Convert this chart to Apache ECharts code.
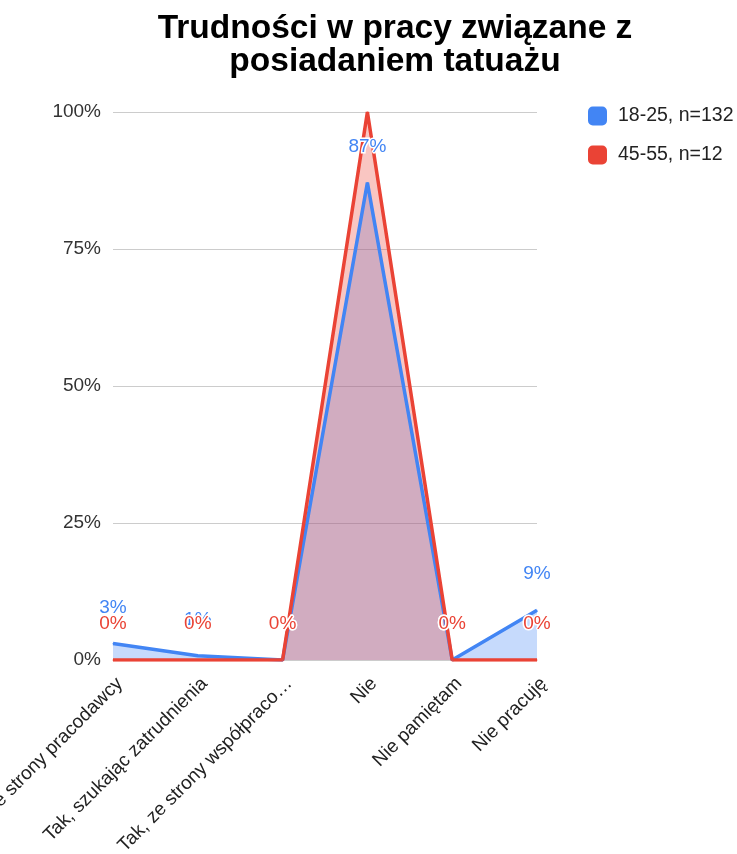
<!DOCTYPE html>
<html>
<head>
<meta charset="utf-8">
<script src="https://cdn.jsdelivr.net/npm/echarts@6/dist/echarts.min.js"></script>
<style>html,body{margin:0;padding:0;background:#fff}#c{width:737px;height:854px}</style>
</head>
<body>
<div id="c"></div>
<script>
const categories = ['Tak, ze strony pracodawcy', 'Tak, szukając zatrudnienia', 'Tak, ze strony współpracowników', 'Nie', 'Nie pamiętam', 'Nie pracuję'];
const seriesNames = ['18-25, n=132', '45-55, n=12'];
const young = [3.03, 0.76, 0, 87.12, 0, 9.09];
const older = [0, 0, 0, 100, 0, 0];
const yTicks = [0, 25, 50, 75, 100];

const chart = echarts.init(document.getElementById('c'));
const FONT = 'Liberation Sans, Arial, sans-serif';
function mkSeries(name, data, color, hideFull) {
  return {
    name: name, type: 'line', data: data,
    symbol: 'circle', symbolSize: 1, showSymbol: true,
    lineStyle: { color: color, width: 3.5 },
    itemStyle: { color: color },
    areaStyle: { color: color, opacity: 0.3 },
    label: {
      show: true, position: 'top', distance: 26,
      color: color, fontSize: 19, fontFamily: FONT,
      textBorderColor: '#fff', textBorderWidth: 3,
      formatter: p => (hideFull && p.value >= 100) ? '' : Math.round(p.value) + '%'
    }
  };
}
chart.setOption({
  animation: false,
  title: {
    text: 'Trudności w pracy związane z\nposiadaniem tatuażu',
    left: 390, top: 7, textAlign: 'center',
    textStyle: { fontSize: 33.5, fontWeight: 'bold', fontFamily: FONT, color: '#000', lineHeight: 33 }
  },
  legend: {
    orient: 'vertical', left: 583, top: 101, itemGap: 19,
    itemWidth: 19, itemHeight: 19, icon: 'roundRect',
    textStyle: { fontSize: 19.5, fontFamily: FONT, color: '#222', padding: [0, 0, 0, 6] },
    data: seriesNames
  },
  grid: { left: 113, right: 200, top: 112, bottom: 194, containLabel: false, outerBoundsMode: 'none' },
  xAxis: {
    type: 'category', data: categories, boundaryGap: false,
    axisLine: { show: false }, axisTick: { show: false },
    axisLabel: { rotate: 45, fontSize: 19, fontFamily: FONT, color: '#222', margin: 14,
      verticalAlign: 'top',
      interval: 0, width: 258, overflow: 'truncate', ellipsis: '…' },
    splitLine: { show: false }
  },
  yAxis: {
    type: 'value', min: 0, max: 100, interval: 25,
    axisLine: { show: false }, axisTick: { show: false },
    axisLabel: { formatter: v => yTicks.includes(v) ? v + '%' : '', fontSize: 19, fontFamily: FONT, color: '#333', margin: 12 },
    splitLine: { lineStyle: { color: '#cccccc', width: 1 } }
  },
  series: [
    mkSeries(seriesNames[0], young, '#4285f4', false),
    mkSeries(seriesNames[1], older, '#ea4335', true)
  ]
});
</script>
</body>
</html>
